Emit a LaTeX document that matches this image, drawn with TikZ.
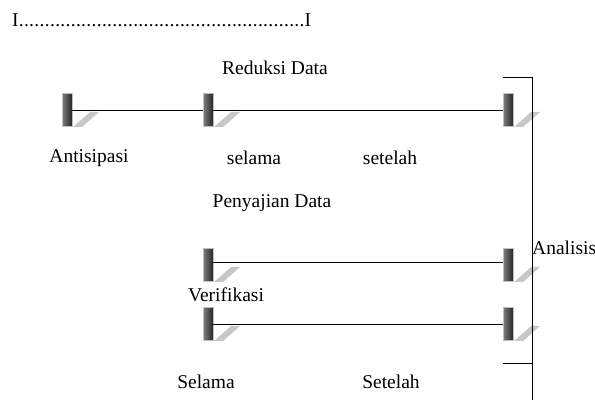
\documentclass[tikz,border=0pt]{standalone}
\usepackage{fontspec}
\setmainfont{Liberation Serif}
\begin{document}
\begin{tikzpicture}[x=1pt,y=-1pt,
  lbl/.style={font=\fontsize{19.5}{22}\selectfont, inner sep=0pt},
  barbox/.style={rectangle, inner sep=0pt, minimum width=10pt, minimum height=33pt,
    left color=black!50, right color=black!85, draw=black!25, line width=0.6pt},
  conn/.style={draw=black, line width=0.9pt},
  shadowfill/.style={fill=black!22}]
\useasboundingbox (0,0) rectangle (595,403);

\node[lbl, anchor=west] (topline) at (12,20) {I\xleaders\hbox to 5.2pt{\hss.\hss}\hskip 286pt I};

% row 1
\node[lbl] (reduksi) at (275,68) {Reduksi Data};
\node[barbox] (b1) at (67,110) {};
\node[barbox] (b2) at (208,110) {};
\node[barbox] (b3) at (508,110) {};
\draw[conn] (b1.east) -- (b2.west);
\draw[conn] (b2.east) -- (b3.west);

\node[lbl] (antisipasi) at (89,158) {Antisipasi};
\node[lbl] (selama1) at (254,158) {selama};
\node[lbl] (setelah1) at (390,158) {setelah};
\node[lbl] (penyajian) at (272,203) {Penyajian Data};

% row 2
\node[barbox] (b4) at (208,265) {};
\node[barbox] (b5) at (508,265) {};
\draw[conn] ([yshift=3pt]b4.east) -- ([yshift=3pt]b5.west);
\node[lbl] (verifikasi) at (226,295) {Verifikasi};

% row 3
\node[barbox] (b6) at (208,324) {};
\node[barbox] (b7) at (508,324) {};
\draw[conn] (b6.east) -- (b7.west);

\node[lbl] (selama2) at (206,382) {Selama};
\node[lbl] (setelah2) at (391,382) {Setelah};

% shadows
\foreach \b in {b1,b2,b3,b4,b5,b6,b7}{
  \fill[shadowfill] ([xshift=1pt]\b.south east) -- ++(9,0) -- ++(17,-15) -- ++(-9,0) -- cycle;
}

% bracket
\coordinate (brtop) at (503,77);
\coordinate (brcorner) at (532,77);
\coordinate (brbottom) at (532,400);
\coordinate (tickleft) at (503,363);
\coordinate (tickright) at (532,363);
\draw[conn] (brtop) -- (brcorner) -- (brbottom);
\draw[conn] (tickleft) -- (tickright);
\node[lbl, anchor=west] (analisis) at (532,248) {Analisis};
\end{tikzpicture}
\end{document}
